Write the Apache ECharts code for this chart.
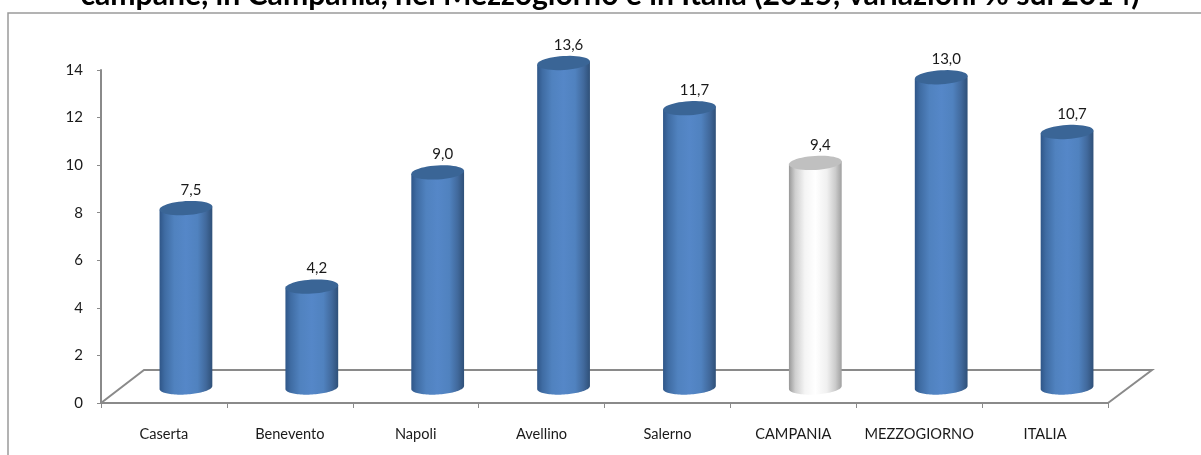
<!DOCTYPE html>
<html>
<head>
<meta charset="utf-8">
<style>html,body{margin:0;padding:0;background:#fff}#c{width:1201px;height:455px}</style>
<script src="https://cdn.jsdelivr.net/npm/echarts@6/dist/echarts.min.js"></script>
</head>
<body>
<div id="c"></div>
<script>
const titleText = 'campane, in Campania, nel Mezzogiorno e in Italia (2015; variazioni % sul 2014)';
const categories = ['Caserta','Benevento','Napoli','Avellino','Salerno','CAMPANIA','MEZZOGIORNO','ITALIA'];
const values = [7.5,4.2,9.0,13.6,11.7,9.4,13.0,10.7];
const yTicks = {min:0,max:14,interval:2};
const highlighted = 'CAMPANIA';

const FONT = 'Lato';
const GREY = '#8a8a8a';
const DEPTH_X = 43, DEPTH_Y = 33;      // perspective of the floor
const OFF_X = 22, OFF_TOP = -16.5, OFF_BASE = -15.5; // cylinders stand in the middle of the floor
const TILT = -3.5 * Math.PI / 180;

function ellipsePoint(cx, cy, rx, ry, t){
  const x = rx * Math.cos(t), y = ry * Math.sin(t);
  return [cx + x * Math.cos(TILT) - y * Math.sin(TILT),
          cy + x * Math.sin(TILT) + y * Math.cos(TILT)];
}
function arc(cx, cy, rx, ry, a, b){
  const pts = [];
  for (let k = 0; k <= 48; k++) pts.push(ellipsePoint(cx, cy, rx, ry, a + (b - a) * k / 48));
  return pts;
}
function grad(stops){
  return {type:'linear',x:0,y:0,x2:1,y2:0,colorStops:stops.map(s=>({offset:s[0],color:s[1]}))};
}
const blueBody = grad([[0,'#2f5688'],[0.1,'#3f6ca3'],[0.28,'#5082bf'],[0.5,'#5587c8'],[0.72,'#5082bf'],[0.88,'#41699c'],[1,'#2f5078']]);
const greyBody = grad([[0,'#989898'],[0.12,'#cfcfcf'],[0.3,'#f4f4f4'],[0.5,'#ffffff'],[0.72,'#f0f0f0'],[0.88,'#cccccc'],[1,'#a0a0a0']]);

function renderFloor(params, api){
  const cs = params.coordSys;
  const l = cs.x, r = cs.x + cs.width, b = cs.y + cs.height;
  return {
    type:'polyline',
    shape:{points:[[l,b],[l+DEPTH_X,b-DEPTH_Y],[r+DEPTH_X+1,b-DEPTH_Y],[r,b]]},
    style:{fill:'none',stroke:GREY,lineWidth:2}
  };
}
function renderBar(params, api){
  const i = api.value(0), v = api.value(1);
  const top = api.coord([i, v]), base = api.coord([i, 0]);
  const band = api.size([1,0])[0];
  const rx = band * 0.21, ry = 7;
  const cx = top[0] + OFF_X, ty = top[1] + OFF_TOP, by = base[1] + OFF_BASE;
  const isHi = categories[i] === highlighted;
  const body = arc(cx, ty, rx, ry, Math.PI, Math.PI).concat(
      arc(cx, by, rx, ry, Math.PI, 0), arc(cx, ty, rx, ry, 0, 0));
  return {
    type:'group',
    children:[
      {type:'polygon',shape:{points:body},style:{fill:isHi?greyBody:blueBody}},
      {type:'polygon',shape:{points:arc(cx,ty,rx,ry,0,2*Math.PI)},style:{fill:isHi?'#c0c0c0':'#3a6596'}},
      {type:'text',style:{x:cx+5,y:ty-18,text:v.toFixed(1).replace('.',','),
        font:'15px '+FONT,fill:'#1a1a1a',align:'center',verticalAlign:'middle'}}
    ]
  };
}

const chart = echarts.init(document.getElementById('c'), null, {renderer:'canvas'});
chart.setOption({
  animation:false,
  backgroundColor:'#fff',
  title:{text:titleText,left:605,top:-25,textAlign:'center',
    textStyle:{fontFamily:FONT,fontWeight:'bold',fontSize:30.2,color:'#000'}},
  grid:{left:101,right:93,top:70,bottom:52},
  xAxis:{type:'category',data:categories,boundaryGap:true,
    axisLine:{lineStyle:{color:GREY,width:2}},
    axisTick:{show:true,length:5,lineStyle:{color:GREY,width:1}},
    axisLabel:{fontFamily:FONT,fontSize:14.6,color:'#1a1a1a',margin:24,interval:0},
    splitLine:{show:false}},
  yAxis:{type:'value',min:yTicks.min,max:yTicks.max,interval:yTicks.interval,
    axisLine:{show:true,lineStyle:{color:GREY,width:2}},
    axisTick:{show:true,length:4,lineStyle:{color:GREY,width:1}},
    axisLabel:{fontFamily:FONT,fontSize:15,color:'#1a1a1a',margin:18,padding:[3,0,0,0]},
    splitLine:{show:false}},
  graphic:[{type:'polyline',silent:true,z:0,
    shape:{points:[[8,455],[8,13],[1201,13]]},
    style:{fill:'none',stroke:'#9a9a9a',lineWidth:1.5}}],
  series:[
    {type:'custom',name:'floor',renderItem:renderFloor,data:[[0,0]],z:1,silent:true},
    {type:'custom',name:'variazione',renderItem:renderBar,z:2,
      data:values.map((v,i)=>[i,v]),encode:{x:0,y:1}}
  ]
});
</script>
</body>
</html>
